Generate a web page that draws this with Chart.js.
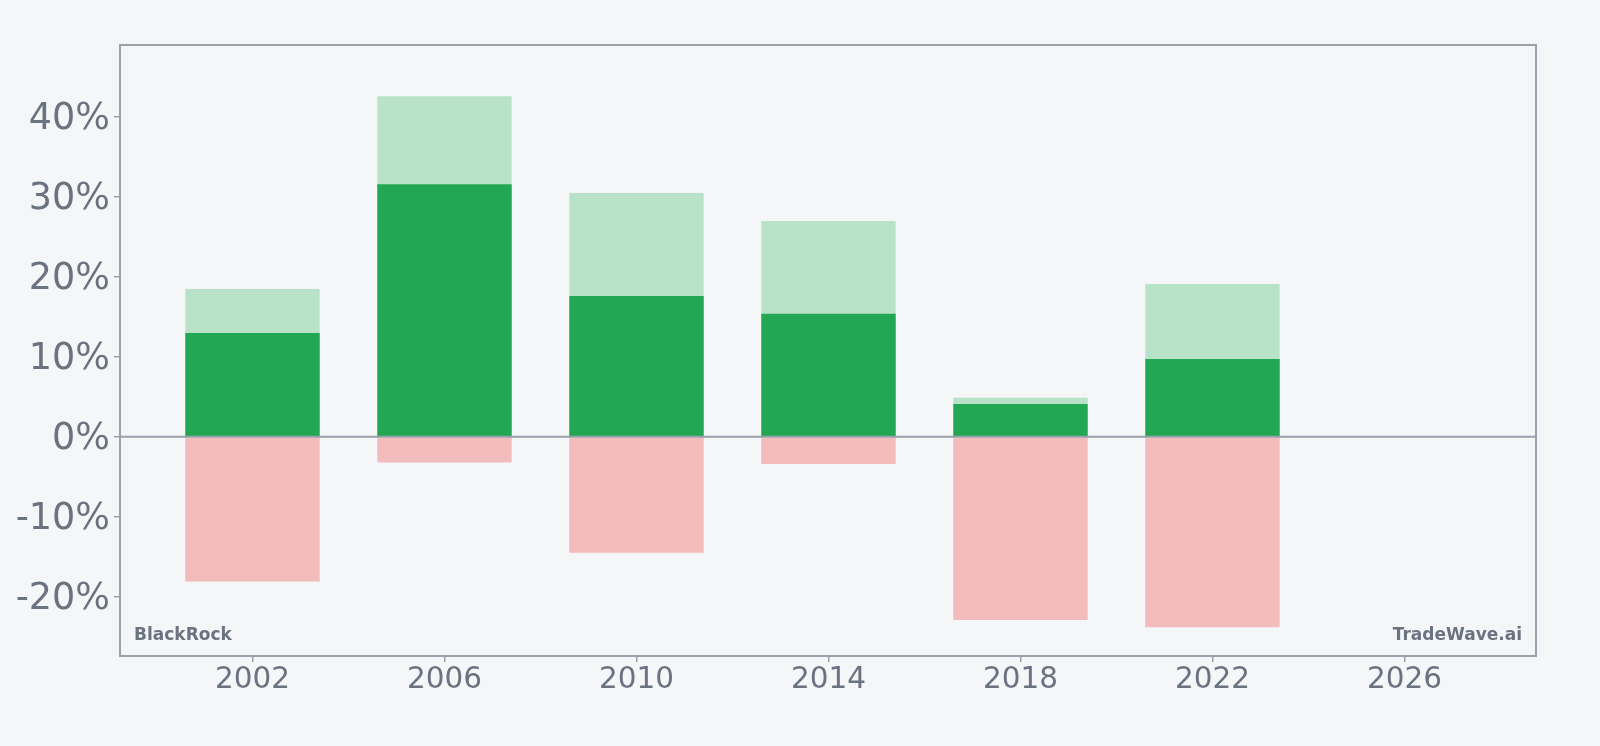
<!DOCTYPE html>
<html>
<head>
<meta charset="utf-8">
<script src="https://cdn.jsdelivr.net/npm/chart.js@4"></script>
<style>
  html, body { margin: 0; padding: 0; background: #f4f6f8; }
  #wrap { width: 1600px; height: 746px; }
</style>
</head>
<body>
<div id="wrap"><canvas id="barChart" width="1600" height="746"></canvas></div>
<script>
// values (percent)
const years = [2002, 2006, 2010, 2014, 2018, 2022];
const maxGain = [18.5, 42.6, 30.5, 27.0, 4.9, 19.1];
const annualReturn = [13.0, 31.6, 17.6, 15.4, 4.1, 9.75];
const maxDrawdown = [-18.1, -3.2, -14.5, -3.4, -22.9, -23.8];
const xTicks = [2002, 2006, 2010, 2014, 2018, 2022, 2026];
const yTicks = [-20, -10, 0, 10, 20, 30, 40];

const textColor = "#6b7280";
const axisColor = "#9ca0aa";

function points(vals) {
  return years.map((y, i) => ({ x: y, y: vals[i] }));
}

// frame, zero line and watermarks
const framePlugin = {
  id: "frame",
  afterDatasetsDraw(chart) {
    const { ctx, chartArea: a, scales } = chart;
    ctx.save();
    ctx.strokeStyle = axisColor;
    ctx.lineWidth = 2;
    const y0 = scales.y.getPixelForValue(0);
    ctx.beginPath();
    ctx.moveTo(a.left, y0);
    ctx.lineTo(a.right, y0);
    ctx.stroke();
    ctx.strokeRect(a.left, a.top, a.right - a.left, a.bottom - a.top);
    ctx.fillStyle = textColor;
    ctx.font = "bold 17px 'DejaVu Sans'";
    ctx.textBaseline = "alphabetic";
    ctx.textAlign = "left";
    ctx.fillText("BlackRock", a.left + 14, a.bottom - 16);
    ctx.textAlign = "right";
    ctx.fillText("TradeWave.ai", a.right - 14, a.bottom - 16);
    ctx.restore();
  },
};

const barChart = new Chart(document.getElementById("barChart").getContext("2d"), {
  type: "bar",
  data: {
    datasets: [
      {
        label: "Max gain",
        data: points(maxGain),
        backgroundColor: "rgb(185, 227, 201)",
        order: 3,
      },
      {
        label: "Annual return",
        data: points(annualReturn),
        backgroundColor: "rgb(34, 168, 83)",
        order: 1,
      },
      {
        label: "Max drawdown",
        data: points(maxDrawdown),
        backgroundColor: "rgb(243, 188, 188)",
        order: 2,
      },
    ],
  },
  options: {
    responsive: false,
    animation: false,
    grouped: false,
    barPercentage: 0.7,
    categoryPercentage: 1,
    borderWidth: 0,
    layout: { padding: { top: 45, right: 64, left: 0, bottom: 0 } },
    plugins: {
      legend: { display: false },
      tooltip: { enabled: false },
    },
    scales: {
      x: {
        type: "linear",
        offset: false,
        min: 1999.24,
        max: 2028.74,
        afterBuildTicks: (scale) => {
          scale.ticks = xTicks.map((v) => ({ value: v }));
        },
        afterFit: (scale) => {
          scale.height = 90;
        },
        grid: {
          offset: false,
          drawOnChartArea: false,
          drawTicks: true,
          tickLength: 6,
          color: axisColor,
          lineWidth: 1.5,
        },
        border: { display: false },
        ticks: {
          color: textColor,
          padding: 1,
          maxRotation: 0,
          autoSkip: false,
          font: { family: "'DejaVu Sans'", size: 29.5 },
          callback: (v) => String(v),
        },
      },
      y: {
        min: -27.4,
        max: 49,
        afterBuildTicks: (scale) => {
          scale.ticks = yTicks.map((v) => ({ value: v }));
        },
        afterFit: (scale) => {
          scale.width = 120;
        },
        grid: {
          drawOnChartArea: false,
          drawTicks: true,
          tickLength: 6,
          color: axisColor,
          lineWidth: 1.5,
        },
        border: { display: false },
        ticks: {
          color: textColor,
          padding: 4,
          labelOffset: 3,
          font: { family: "'DejaVu Sans'", size: 36.5 },
          callback: (v) => v + "%",
        },
      },
    },
  },
  plugins: [framePlugin],
});
</script>
</body>
</html>
